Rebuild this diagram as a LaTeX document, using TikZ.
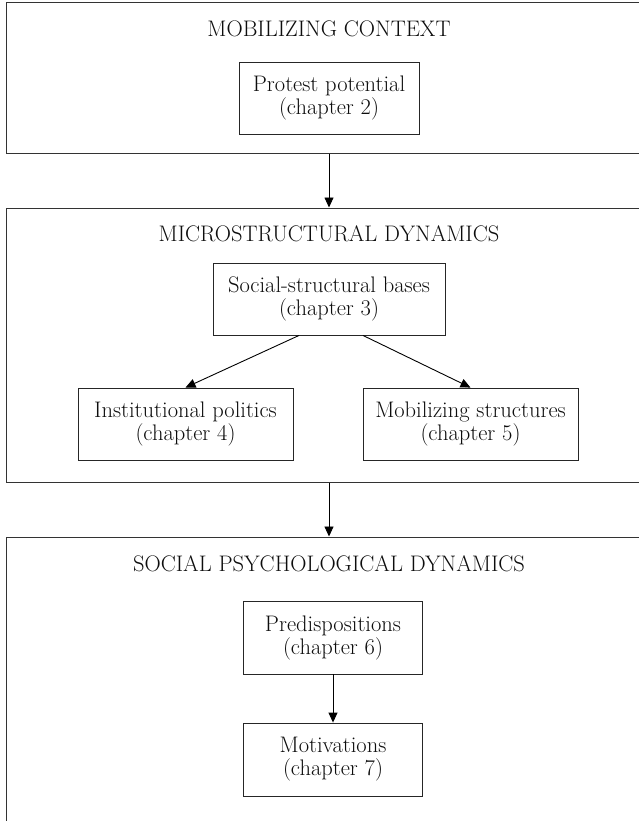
\documentclass[tikz,border=0pt]{standalone}
\usepackage{fontspec}
\usetikzlibrary{arrows.meta}

\begin{document}
\begin{tikzpicture}[x=1pt,y=-1pt,
        font=\fontsize{22.5}{23}\selectfont,
        panel/.style={draw=black!80, line width=1pt, minimum width=646pt},
        stage/.style={draw=black!85, line width=0.9pt, align=center, text=black!95, minimum height=72pt, inner sep=0pt},
        heading/.style={anchor=base, text=black!95, inner sep=0pt},
        >={Triangle[length=10pt,width=9pt]}]
                \clip (0,0) rectangle (639,821);

                \node[panel, minimum height=151pt] (ctx) at (329,78.5) {};
                \node[panel, minimum height=274pt] (micro) at (329,345) {};
                \node[panel, minimum height=300pt] (psych) at (329,687) {};

                \node[heading] (ctxtitle) at (329,37) {MOBILIZING CONTEXT};
                \node[heading] (microtitle) at (329,241) {MICROSTRUCTURAL DYNAMICS};
                \node[heading] (psychtitle) at (329,571) {SOCIAL PSYCHOLOGICAL DYNAMICS};

                \node[stage, minimum width=180pt] (protest) at (329,98) {Protest potential\\(chapter 2)};
                \node[stage, minimum width=232pt] (bases) at (329,299) {Social-structural bases\\(chapter 3)};
                \node[stage, minimum width=215pt] (inst) at (185.5,424) {Institutional politics\\(chapter 4)};
                \node[stage, minimum width=215pt] (mobstruct) at (470.5,424) {Mobilizing structures\\(chapter 5)};
                \node[stage, minimum width=179pt, minimum height=73pt] (predisp) at (333,637.5) {Predispositions\\(chapter 6)};
                \node[stage, minimum width=179pt, minimum height=73pt] (motiv) at (333,759.5) {Motivations\\(chapter 7)};

                \draw[->, line width=0.9pt] (ctx) -- (micro);
                \draw[->, line width=0.9pt] (micro) -- (psych);
                \draw[->, line width=0.9pt] ([xshift=-30pt]bases.south) -- (inst.north);
                \draw[->, line width=0.9pt] ([xshift=34pt]bases.south) -- (mobstruct.north);
                \draw[->, line width=0.9pt] (predisp) -- (motiv);
            \end{tikzpicture}
\end{document}
